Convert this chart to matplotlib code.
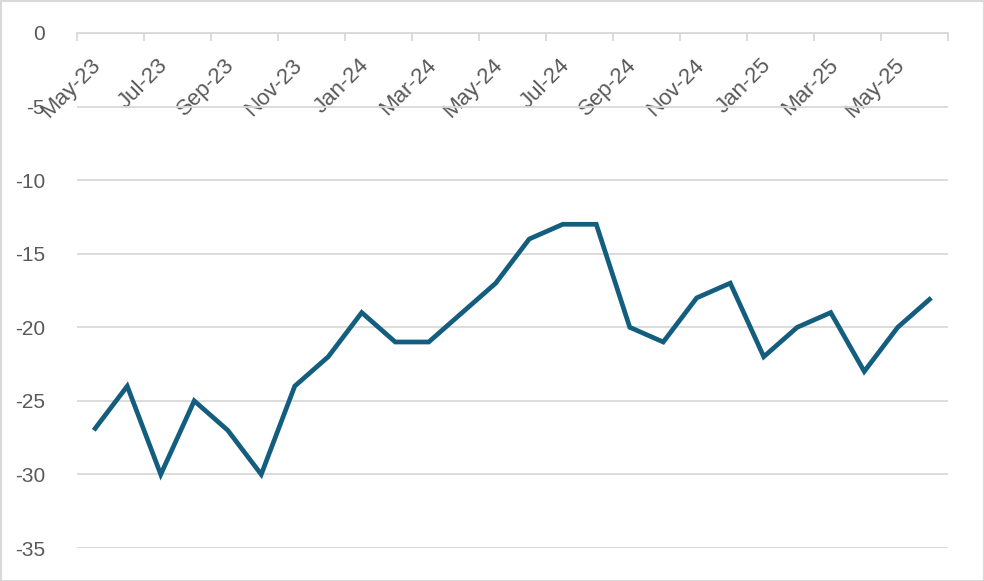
import matplotlib.pyplot as plt
import matplotlib as mpl
from matplotlib.patches import Rectangle
from matplotlib.transforms import ScaledTranslation

plt.rcParams['font.family'] = ['Liberation Sans', 'DejaVu Sans']
plt.rcParams['font.size'] = 14

months = ['May-23', 'Jun-23', 'Jul-23', 'Aug-23', 'Sep-23', 'Oct-23',
          'Nov-23', 'Dec-23', 'Jan-24', 'Feb-24', 'Mar-24', 'Apr-24',
          'May-24', 'Jun-24', 'Jul-24', 'Aug-24', 'Sep-24', 'Oct-24',
          'Nov-24', 'Dec-24', 'Jan-25', 'Feb-25', 'Mar-25', 'Apr-25',
          'May-25', 'Jun-25']
values = [-27, -24, -30, -25, -27, -30, -24, -22, -19, -21, -21, -19,
          -17, -14, -13, -13, -20, -21, -18, -17, -22, -20, -19, -23,
          -20, -18]
yticks = [0, -5, -10, -15, -20, -25, -30, -35]

text_color = '#595959'
grid_color = '#d9d9d9'
line_color = '#135e7f'

fig = plt.figure(figsize=(9.84, 5.81), dpi=100)
ax = fig.add_axes([77/984, 1-548/581, (948-77)/984, (548-33)/581])

x = list(range(len(values)))
ax.plot(x, values, color=line_color, lw=3.4, solid_joinstyle='miter',
        solid_capstyle='butt', zorder=3)

ax.set_xlim(-0.5, len(values) - 0.5)
ax.set_ylim(-35, 0)
ax.set_yticks(yticks)
ax.set_yticklabels([str(v) for v in yticks])
ax.yaxis.grid(True, color=grid_color, lw=1.3)
ax.set_axisbelow(True)
ax.tick_params(axis='y', length=0, pad=23, colors=text_color, labelsize=15)

for s in ['left', 'right', 'top']:
    ax.spines[s].set_visible(False)
ax.spines['bottom'].set_position(('data', 0))
ax.spines['bottom'].set_color(grid_color)
ax.spines['bottom'].set_linewidth(1.3)
ax.spines['bottom'].set_zorder(2)

# major ticks on category boundaries, labels on category centres
ax.set_xticks([i - 0.5 for i in range(0, len(values) + 1, 2)])
ax.set_xticklabels([])
ax.tick_params(axis='x', which='major', direction='out', length=6,
               width=1.3, color=grid_color)
ax.set_xticks(x[::2], minor=True)
ax.set_xticklabels(months[::2], minor=True, rotation=45, ha='right',
                   va='center', rotation_mode='anchor', color=text_color,
                   fontsize=16)
ax.tick_params(axis='x', which='minor', length=0, pad=21)
shift = ScaledTranslation(4/100, 0, fig.dpi_scale_trans)
for lab in ax.get_xticklabels(minor=True):
    lab.set_transform(lab.get_transform() + shift)

fig.patches.append(Rectangle((0.5/984, 0.5/581), 1-1/984, 1-1/581,
                             transform=fig.transFigure, fill=False,
                             edgecolor=grid_color, lw=1.5))

plt.savefig('out.png', dpi=100)
